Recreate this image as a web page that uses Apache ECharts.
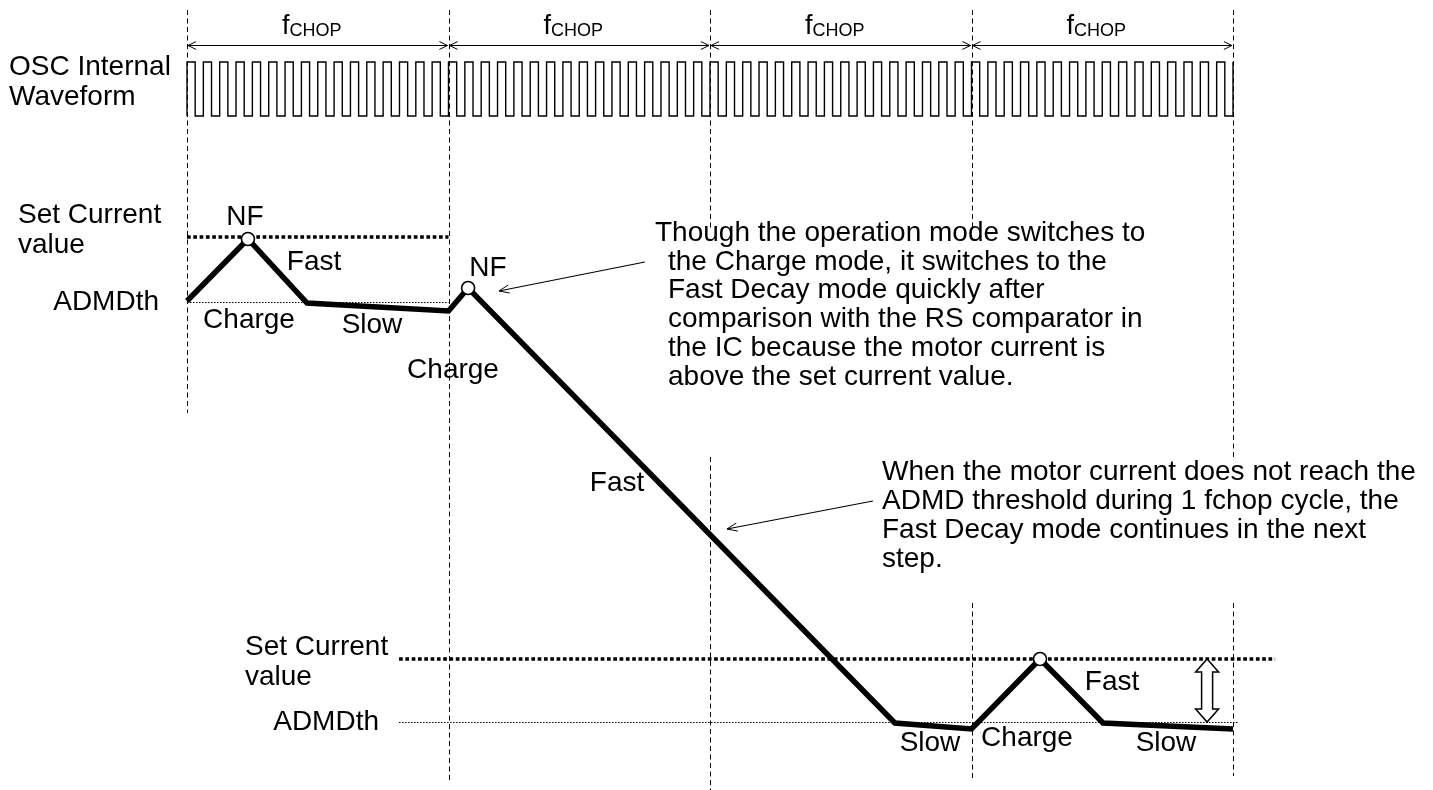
<!DOCTYPE html>
<html>
<head>
<meta charset="utf-8">
<title>ADMD chopping timing</title>
<script src="https://cdn.jsdelivr.net/npm/echarts@6/dist/echarts.min.js"></script>
<style>
  html, body { margin: 0; padding: 0; background: #fff; }
  #chart { width: 1433px; height: 790px; }
</style>
</head>
<body>
<div id="chart"></div>
<script>
// x = time in fCHOP periods, y = drawing level (0 at the bottom)
var chopEdges = [0, 1, 2, 3, 4];
var oscCyclesPerChop = 16;
var oscLow = 674;
var oscHigh = 728;
var chopArrowLevel = 745;

// motor current trace, NF points are indexes into it
var traceTime = [0, 0.233, 0.459, 1.0, 1.075, 2.707, 3.0, 3.262, 3.503, 4.0];
var traceCurrent = [489, 551, 487, 479, 502, 67, 61, 131, 67, 61];
var nfIndex = [1, 4, 7];

// [from, to, level]
var setCurrentLines = [[0, 1, 553], [0.811, 4.161, 131]];
var admdLines = [[0, 1, 488], [0.811, 4.019, 68]];

// dashed chop boundaries [time, top, bottom]
var boundarySegments = [
  [0, 780, 377], [1, 780, 10],
  [2, 780, 559], [2, 333, 0],
  [3, 780, 559], [3, 187, 11],
  [4, 780, 332], [4, 187, 14]
];

// [tailTime, tailLevel, tipTime, tipLevel]
var calloutArrows = [[1.751, 528, 1.193, 499], [2.623, 289, 2.065, 261]];
// hollow double arrow [time, top, bottom]
var rangeArrow = [[3.901, 131, 68]];

var calloutNF = [
  'Though the operation mode switches to',
  'the Charge mode, it switches to the',
  'Fast Decay mode quickly after',
  'comparison with the RS comparator in',
  'the IC because the motor current is',
  'above the set current value.'
];
var calloutADMD = [
  'When the motor current does not reach the',
  'ADMD threshold during 1 fchop cycle, the',
  'Fast Decay mode continues in the next',
  'step.'
];

var FONT = 'Liberation Sans, Arial, sans-serif';

var oscData = [];
var nCycles = oscCyclesPerChop * (chopEdges.length - 1);
for (var k = 0; k < nCycles; k++) {
  var t0 = k / oscCyclesPerChop, tm = (k + 0.5) / oscCyclesPerChop;
  oscData.push([t0, oscLow], [t0, oscHigh], [tm, oscHigh], [tm, oscLow]);
}
oscData.push([nCycles / oscCyclesPerChop, oscLow], [nCycles / oscCyclesPerChop, oscHigh]);

var chopSpans = [];
for (var i = 0; i < chopEdges.length - 1; i++) chopSpans.push([chopEdges[i], chopEdges[i + 1]]);

function txt(text, x, y, align) {
  return {
    type: 'text', z: 100, silent: true,
    style: { text: text, x: x, y: y, fontSize: 28, fontFamily: FONT, fill: '#000',
             align: align || 'left', verticalAlign: 'middle' }
  };
}

var labels = [
  txt('OSC Internal', 9, 67), txt('Waveform', 9, 97),
  txt('Set Current', 18, 215), txt('value', 18, 245), txt('ADMDth', 159, 302, 'right'),
  txt('NF', 245, 217, 'center'), txt('Fast', 314, 262, 'center'),
  txt('Charge', 249, 320, 'center'), txt('Slow', 372, 325, 'center'),
  txt('NF', 488, 268, 'center'), txt('Charge', 453, 370, 'center'),
  txt('Fast', 617, 483, 'center'),
  txt('Set Current', 245, 647), txt('value', 245, 677), txt('ADMDth', 379, 722, 'right'),
  txt('Slow', 930, 743, 'center'), txt('Charge', 1027, 738, 'center'),
  txt('Fast', 1112, 682, 'center'), txt('Slow', 1166, 743, 'center')
];
calloutNF.forEach(function (s, i) { labels.push(txt(s, i === 0 ? 655 : 668, 233 + i * 28.8)); });
calloutADMD.forEach(function (s, i) { labels.push(txt(s, 882, 472 + i * 29)); });

function chevron(x, y, dx, dy, len, spread) {
  // open arrow head at (x,y) pointing along (dx,dy)
  var n = Math.sqrt(dx * dx + dy * dy); dx /= n; dy /= n;
  var c = Math.cos(spread), s = Math.sin(spread);
  var ax = -dx * c + dy * s, ay = -dy * c - dx * s;
  var bx = -dx * c - dy * s, by = -dy * c + dx * s;
  return { type: 'polyline',
    shape: { points: [[x + ax * len, y + ay * len], [x, y], [x + bx * len, y + by * len]] },
    style: { stroke: '#000', fill: null, lineWidth: 1 } };
}

var chart = echarts.init(document.getElementById('chart'));
chart.setOption({
  animation: false,
  backgroundColor: '#fff',
  grid: { left: 187, right: 200, top: 0, bottom: 0 },
  xAxis: { type: 'value', min: 0, max: 4, show: false },
  yAxis: { type: 'value', min: 0, max: 790, show: false },
  graphic: labels,
  series: [
    {
      // chop boundaries
      type: 'custom', silent: true, z: 1,
      data: boundarySegments,
      renderItem: function (params, api) {
        var a = api.coord([api.value(0), api.value(1)]);
        var b = api.coord([api.value(0), api.value(2)]);
        var x = Math.round(a[0]) + 0.5;
        return { type: 'line', shape: { x1: x, y1: a[1], x2: x, y2: b[1] },
          style: { stroke: '#000', lineWidth: 1, lineDash: [5, 3.5] } };
      }
    },
    {
      // fCHOP arrows and labels
      type: 'custom', silent: true, z: 2,
      data: chopSpans,
      renderItem: function (params, api) {
        var a = api.coord([api.value(0), chopArrowLevel]);
        var b = api.coord([api.value(1), chopArrowLevel]);
        var y = Math.round(a[1]) + 0.5;
        return { type: 'group', children: [
          { type: 'line', shape: { x1: a[0] + 1, y1: y, x2: b[0] - 1, y2: y },
            style: { stroke: '#000', lineWidth: 1 } },
          chevron(a[0] + 1, y, -1, 0, 9, 0.45),
          chevron(b[0] - 1, y, 1, 0, 9, 0.45),
          { type: 'text', style: { x: (a[0] + b[0]) / 2 - 6, y: a[1] - 5,
              text: '{f|f}{s|CHOP}', align: 'center', verticalAlign: 'bottom', fill: '#000',
              rich: {
                f: { fontSize: 27, fontFamily: FONT, verticalAlign: 'bottom' },
                s: { fontSize: 18, fontFamily: FONT, verticalAlign: 'bottom' }
              } } }
        ] };
      }
    },
    {
      // OSC internal waveform
      type: 'line', silent: true, z: 2, showSymbol: false, clip: false,
      data: oscData,
      lineStyle: { color: '#000', width: 1.4, join: 'miter' }
    },
    {
      // set current levels
      type: 'custom', silent: true, z: 3,
      data: setCurrentLines,
      renderItem: function (params, api) {
        var a = api.coord([api.value(0), api.value(2)]);
        var b = api.coord([api.value(1), api.value(2)]);
        return { type: 'line', shape: { x1: a[0], y1: a[1], x2: b[0], y2: b[1] },
          style: { stroke: '#000', lineWidth: 3.6, lineDash: [3.7, 2.6] } };
      }
    },
    {
      // ADMD thresholds
      type: 'custom', silent: true, z: 3,
      data: admdLines,
      renderItem: function (params, api) {
        var a = api.coord([api.value(0), api.value(2)]);
        var b = api.coord([api.value(1), api.value(2)]);
        var y = Math.round(a[1]) + 0.5;
        return { type: 'line', shape: { x1: a[0], y1: y, x2: b[0], y2: y },
          style: { stroke: '#000', lineWidth: 1.2, lineDash: [1.5, 1.5] } };
      }
    },
    {
      // motor current
      type: 'line', silent: true, z: 4, showSymbol: false, clip: false,
      data: traceTime.map(function (t, i) { return [t, traceCurrent[i]]; }),
      lineStyle: { color: '#000', width: 5.5, join: 'miter' }
    },
    {
      // NF points
      type: 'scatter', silent: true, z: 5, symbol: 'circle', symbolSize: 13,
      data: nfIndex.map(function (i) { return [traceTime[i], traceCurrent[i]]; }),
      itemStyle: { color: '#fff', opacity: 1, borderColor: '#000', borderWidth: 1.6 }
    },
    {
      // callout arrows
      type: 'custom', silent: true, z: 6,
      data: calloutArrows,
      renderItem: function (params, api) {
        var a = api.coord([api.value(0), api.value(1)]);
        var b = api.coord([api.value(2), api.value(3)]);
        return { type: 'group', children: [
          { type: 'line', shape: { x1: a[0], y1: a[1], x2: b[0], y2: b[1] },
            style: { stroke: '#000', lineWidth: 1.1 } },
          chevron(b[0], b[1], b[0] - a[0], b[1] - a[1], 11, 0.38)
        ] };
      }
    },
    {
      // hollow double arrow between set current and ADMDth
      type: 'custom', silent: true, z: 6,
      data: rangeArrow,
      renderItem: function (params, api) {
        var a = api.coord([api.value(0), api.value(1)]);
        var b = api.coord([api.value(0), api.value(2)]);
        var x = a[0], yt = a[1], yb = b[1], hw = 11.5, sw = 5.5, hl = 13;
        return { type: 'polygon',
          shape: { points: [[x, yt], [x + hw, yt + hl], [x + sw, yt + hl], [x + sw, yb - hl],
                            [x + hw, yb - hl], [x, yb], [x - hw, yb - hl], [x - sw, yb - hl],
                            [x - sw, yt + hl], [x - hw, yt + hl]] },
          style: { fill: '#fff', stroke: '#000', lineWidth: 1.5 } };
      }
    }
  ]
});
</script>
</body>
</html>
